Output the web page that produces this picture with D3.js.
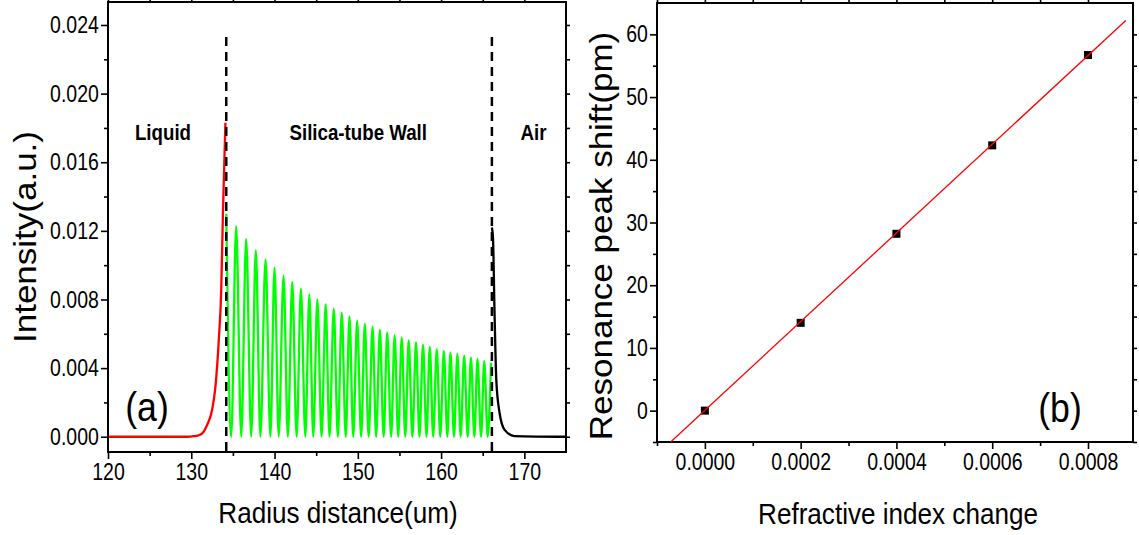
<!DOCTYPE html>
<html lang="en">
<head>
    <meta charset="UTF-8">
    <title>Field intensity and resonance shift</title>
    <script src="https://d3js.org/d3.v7.min.js"></script>
    <style>
        body { margin: 0; background: white; }
        svg { display: block; }
        text { font-family: "Liberation Sans", Arial, sans-serif; fill: #000; }
    </style>
</head>
<body>
    <svg width="1139" height="535"></svg>

    <script>
        // ---- panel (a): intensity vs radius ----
        const radiusTicks = [120, 130, 140, 150, 160, 170];
        const radiusMinor = [125, 135, 145, 155, 165];
        const intensityTicks = [0, 0.004, 0.008, 0.012, 0.016, 0.020, 0.024];
        const intensityMinor = [0.002, 0.006, 0.010, 0.014, 0.018, 0.022];
        const boundaries = [134.2, 166.1];
        const regionNames = ["Liquid", "Silica-tube Wall", "Air"];

        // evanescent tail in the liquid (red)
        const liquidCurve = [
            [120, 0], [129.5, 0], [130.3, 0.00003], [131.0, 0.0001], [131.5, 0.0003],
            [131.9, 0.00068], [132.5, 0.00156], [132.9, 0.0029], [133.3, 0.0056],
            [133.6, 0.0086], [133.8, 0.0130], [134.1, 0.0183]
        ];
        // oscillation inside the silica wall (green)
        const wallStart = [134.2, 0.0130];
        const wallValleyX = [
            134.8, 136.0, 137.2, 138.3, 139.5, 140.5, 141.6, 142.65, 143.7, 144.65,
            145.65, 146.6, 147.6, 148.55, 149.45, 150.4, 151.3, 152.2, 153.1, 154.0,
            154.85, 155.7, 156.55, 157.4, 158.25, 159.05, 159.9, 160.75, 161.55, 162.35,
            163.2, 164.0, 164.8, 165.6
        ];
        const wallPeakX = [
            135.39, 136.59, 137.75, 138.92, 140.0, 141.08, 142.13, 143.17, 144.18, 145.14,
            146.14, 147.11, 148.07, 149.0, 149.92, 150.84, 151.77, 152.65, 153.53, 154.42,
            155.27, 156.11, 156.99, 157.83, 158.64, 159.48, 160.33, 161.12, 161.96, 162.77,
            163.58, 164.37, 165.18, 165.99
        ];
        const wallPeakY = [
            0.01228, 0.01153, 0.01088, 0.01034, 0.00985, 0.00939, 0.00902, 0.00863, 0.00830, 0.00801,
            0.00772, 0.00746, 0.00723, 0.00700, 0.00676, 0.00659, 0.00641, 0.00622, 0.00606, 0.00591,
            0.00577, 0.00562, 0.00550, 0.00536, 0.00525, 0.00511, 0.00501, 0.00492, 0.00484, 0.00472,
            0.00461, 0.00453, 0.00441, 0.00431
        ];
        // decay into air (black)
        const airCurve = [
            [166.1, 0.0122], [166.23, 0.0116], [166.42, 0.0072], [166.63, 0.0033],
            [167.02, 0.0014], [167.63, 0.0004], [168.8, 0.00004], [175, 0]
        ];

        // ---- panel (b): resonance shift vs refractive index ----
        const riTicks = [0, 0.0002, 0.0004, 0.0006, 0.0008];
        const riMinor = [-0.0001, 0.0001, 0.0003, 0.0005, 0.0007];
        const shiftTicks = [0, 10, 20, 30, 40, 50, 60];
        const shiftMinor = [-5, 5, 15, 25, 35, 45, 55];
        const riChange = [0, 0.0002, 0.0004, 0.0006, 0.0008];
        const peakShift = [0, 14.0, 28.2, 42.3, 56.7];
        const fitLine = [[-0.0000715, -5], [0.000879, 62.2]];

        const svg = d3.select("svg");
        svg.append("rect").attr("width", 1139).attr("height", 535).attr("fill", "white");

        const FONT = '"Liberation Sans", Arial, sans-serif';
        const SQ = 0.87;      // horizontal squeeze of the original lettering
        const TICK_SQ = 0.83;

        function addAxis(axisFn, scale, pos, vals, size, fmt) {
            const a = axisFn(scale).tickValues(vals).tickSize(size).tickSizeOuter(0).tickPadding(4);
            a.tickFormat(fmt ? fmt : () => "");
            const g = svg.append("g").attr("transform", pos).call(a);
            g.select(".domain").remove();
            g.selectAll("line").attr("stroke", "#000").attr("stroke-width", 1.6);
            g.selectAll("text")
                .attr("font-family", FONT)
                .attr("font-size", 23.5)
                .attr("fill", "#000")
                .attr("transform", `scale(${TICK_SQ},1)`);
            return g;
        }

        function hLabel(x, y, txt, size, weight) {
            svg.append("text")
                .attr("transform", `translate(${x},${y}) scale(${SQ},1)`)
                .attr("text-anchor", "middle")
                .attr("font-size", size)
                .attr("font-weight", weight || "normal")
                .text(txt);
        }

        function vLabel(x, y, txt, size) {
            svg.append("text")
                .attr("transform", `translate(${x},${y}) scale(${SQ},1) rotate(-90)`)
                .attr("text-anchor", "middle")
                .attr("font-size", size)
                .text(txt);
        }

        // ===== panel (a) =====
        const xL = d3.scaleLinear().domain([120, 175]).range([108, 566]);
        const yL = d3.scaleLinear().domain([-0.00089, 0.02534]).range([452, 2]);

        const lineL = d3.line().x(d => xL(d[0])).y(d => yL(d[1])).curve(d3.curveMonotoneX);

        svg.append("path").datum(liquidCurve).attr("d", lineL)
            .attr("fill", "none").attr("stroke", "#ff0000").attr("stroke-width", 2.3);

        const wallPts = [wallStart];
        wallValleyX.forEach((vx, i) => {
            wallPts.push([vx, 0]);
            wallPts.push([wallPeakX[i], wallPeakY[i]]);
        });
        svg.append("path").datum(wallPts).attr("d", lineL)
            .attr("fill", "none").attr("stroke", "#00ff00").attr("stroke-width", 2.3);

        svg.append("path").datum(airCurve).attr("d", lineL)
            .attr("fill", "none").attr("stroke", "#000").attr("stroke-width", 2.3);

        svg.selectAll(".bound").data(boundaries).enter().append("line")
            .attr("x1", d => xL(d)).attr("x2", d => xL(d))
            .attr("y1", yL(0.0233)).attr("y2", yL.range()[0])
            .attr("stroke", "#000").attr("stroke-width", 2.5)
            .attr("stroke-dasharray", "9,6");

        svg.append("rect")
            .attr("x", xL.range()[0]).attr("y", yL.range()[1])
            .attr("width", xL.range()[1] - xL.range()[0])
            .attr("height", yL.range()[0] - yL.range()[1])
            .attr("fill", "none").attr("stroke", "#000").attr("stroke-width", 2);

        addAxis(d3.axisBottom, xL, `translate(0,${yL.range()[0]})`, radiusTicks, 7, d3.format("d"));
        addAxis(d3.axisBottom, xL, `translate(0,${yL.range()[0]})`, radiusMinor, 4);
        addAxis(d3.axisTop, xL, `translate(0,${yL.range()[1]})`, radiusTicks.concat(radiusMinor), 3);
        addAxis(d3.axisLeft, yL, `translate(${xL.range()[0]},0)`, intensityTicks, 7, d3.format(".3f"));
        addAxis(d3.axisLeft, yL, `translate(${xL.range()[0]},0)`, intensityMinor, 4);
        addAxis(d3.axisRight, yL, `translate(${xL.range()[1]},0)`, intensityTicks.concat(intensityMinor), 4);

        const regionX = [126.6, 150.05, 171.1];
        regionNames.forEach((n, i) => hLabel(xL(regionX[i]), yL(0.0173), n, 21.5, "bold"));
        hLabel(147, 421, "(a)", 41);
        hLabel(338, 523, "Radius distance(um)", 30);
        vLabel(36, 237, "Intensity(a.u.)", 35);

        // ===== panel (b) =====
        const xR = d3.scaleLinear().domain([-0.0001, 0.000894]).range([657, 1133]);
        const yR = d3.scaleLinear().domain([-5, 65]).range([442, 3]);

        svg.append("rect")
            .attr("x", xR.range()[0]).attr("y", yR.range()[1])
            .attr("width", xR.range()[1] - xR.range()[0])
            .attr("height", yR.range()[0] - yR.range()[1])
            .attr("fill", "none").attr("stroke", "#000").attr("stroke-width", 2);

        addAxis(d3.axisBottom, xR, `translate(0,${yR.range()[0]})`, riTicks, 7, d3.format(".4f"));
        addAxis(d3.axisBottom, xR, `translate(0,${yR.range()[0]})`, riMinor, 4);
        addAxis(d3.axisTop, xR, `translate(0,${yR.range()[1]})`, riTicks.concat(riMinor), 3);
        addAxis(d3.axisLeft, yR, `translate(${xR.range()[0]},0)`, shiftTicks, 7, d3.format("d"));
        addAxis(d3.axisLeft, yR, `translate(${xR.range()[0]},0)`, shiftMinor, 4);
        addAxis(d3.axisRight, yR, `translate(${xR.range()[1]},0)`, shiftTicks.concat(shiftMinor), 4);

        svg.selectAll(".pt").data(riChange).enter().append("rect")
            .attr("x", d => xR(d) - 4).attr("y", (d, i) => yR(peakShift[i]) - 4)
            .attr("width", 8).attr("height", 8).attr("fill", "#000");

        svg.append("path").datum(fitLine)
            .attr("d", d3.line().x(d => xR(d[0])).y(d => yR(d[1])))
            .attr("fill", "none").attr("stroke", "#ff0000").attr("stroke-width", 1.3);

        hLabel(1060, 422, "(b)", 41);
        hLabel(898, 524, "Refractive index change", 30);
        vLabel(612, 236, "Resonance peak shift(pm)", 35);
    </script>
</body>
</html>
